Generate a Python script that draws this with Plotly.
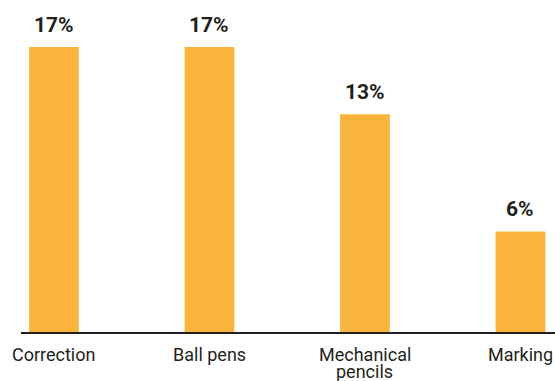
import plotly.graph_objects as go

categories = ["Correction", "Ball pens", "Mechanical<br>pencils", "Marking"]
values = [17, 17, 13, 6]
labels = ["17%", "17%", "13%", "6%"]

bar_color = "#F9B53B"
text_color = "#231F20"

fig = go.Figure()
fig.add_trace(go.Bar(
    x=list(range(len(categories))),
    y=values,
    marker=dict(color=bar_color, line=dict(width=0)),
    width=0.32,
    hoverinfo="skip",
))

for i, (v, t) in enumerate(zip(values, labels)):
    fig.add_annotation(
        x=i, y=v, text="<b>%s</b>" % t, showarrow=False,
        yanchor="bottom", yshift=8,
        font=dict(family="Roboto", size=21, color=text_color),
    )

# category labels with tight line spacing (as in the reference)
for i, cat in enumerate(categories):
    for j, line in enumerate(cat.split("<br>")):
        fig.add_annotation(
            x=i, y=0, xref="x", yref="paper", text=line, showarrow=False,
            yanchor="top", yshift=-10 - 17 * j,
            font=dict(family="Roboto", size=18, color=text_color),
        )

fig.update_layout(
    width=555, height=381,
    margin=dict(l=21, r=0, t=0, b=49),
    plot_bgcolor="white", paper_bgcolor="white",
    showlegend=False,
    xaxis=dict(
        range=[-0.212, 3.222],
        showticklabels=False,
        showline=True, linecolor=text_color, linewidth=1.5,
        showgrid=False, zeroline=False, ticks="",
    ),
    yaxis=dict(
        range=[0, 19.81],
        visible=False, showgrid=False, zeroline=False,
    ),
)

fig.write_html("out.html")
